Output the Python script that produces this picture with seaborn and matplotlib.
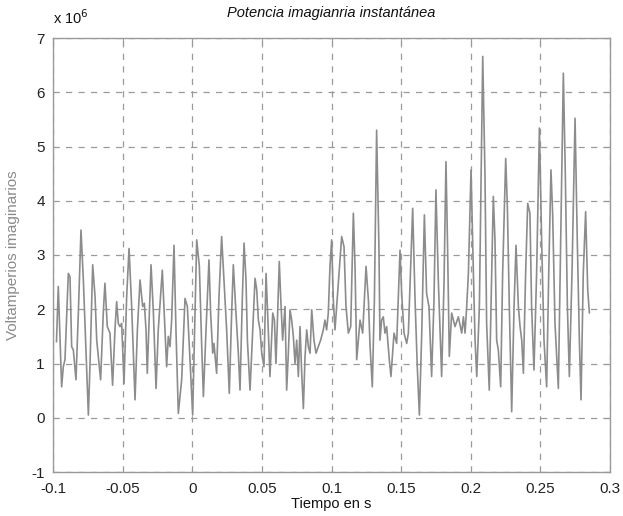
import numpy as np
import pandas as pd
import matplotlib
matplotlib.use("Agg")
import matplotlib.pyplot as plt
from matplotlib.ticker import FuncFormatter
import seaborn as sns

# Time (s) and instantaneous imaginary power (in units of 1e6 VAr)
t_s = [
    -0.0975, -0.0962, -0.0938, -0.0926, -0.0914, -0.0890, -0.0878, -0.0866, -0.0854, -0.0835,
    -0.0818, -0.0799, -0.0782, -0.0763, -0.0746, -0.0734, -0.0715, -0.0698, -0.0686, -0.0658,
    -0.0639, -0.0627, -0.0610, -0.0591, -0.0572, -0.0555, -0.0543, -0.0531, -0.0519, -0.0507,
    -0.0490, -0.0471, -0.0454, -0.0435, -0.0411, -0.0394, -0.0375, -0.0356, -0.0344, -0.0332,
    -0.0323, -0.0308, -0.0296, -0.0279, -0.0260, -0.0244, -0.0215, -0.0196, -0.0184, -0.0172,
    -0.0160, -0.0148, -0.0131, -0.0117, -0.0100, -0.0076, -0.0052, -0.0035, -0.0021, 0.0003,
    0.0032, 0.0051, 0.0068, 0.0080, 0.0099, 0.0120, 0.0132, 0.0147, 0.0156, 0.0175,
    0.0192, 0.0211, 0.0228, 0.0247, 0.0266, 0.0283, 0.0295, 0.0314, 0.0331, 0.0343,
    0.0360, 0.0372, 0.0386, 0.0396, 0.0415, 0.0431, 0.0451, 0.0463, 0.0475, 0.0487,
    0.0499, 0.0515, 0.0530, 0.0546, 0.0558, 0.0578, 0.0590, 0.0601, 0.0611, 0.0625,
    0.0635, 0.0649, 0.0666, 0.0678, 0.0690, 0.0702, 0.0714, 0.0726, 0.0738, 0.0750,
    0.0762, 0.0774, 0.0786, 0.0798, 0.0810, 0.0822, 0.0834, 0.0846, 0.0858, 0.0874,
    0.0889, 0.0905, 0.0922, 0.0941, 0.0953, 0.0965, 0.0977, 0.0989, 0.1001, 0.1013,
    0.1025, 0.1049, 0.1073, 0.1090, 0.1104, 0.1121, 0.1138, 0.1157, 0.1169, 0.1181,
    0.1205, 0.1224, 0.1248, 0.1265, 0.1277, 0.1293, 0.1308, 0.1324, 0.1341, 0.1348,
    0.1360, 0.1372, 0.1384, 0.1396, 0.1415, 0.1427, 0.1449, 0.1468, 0.1492, 0.1504,
    0.1521, 0.1540, 0.1552, 0.1583, 0.1600, 0.1616, 0.1631, 0.1648, 0.1667, 0.1683,
    0.1700, 0.1719, 0.1736, 0.1750, 0.1767, 0.1791, 0.1808, 0.1822, 0.1834, 0.1846,
    0.1863, 0.1887, 0.1911, 0.1935, 0.1947, 0.1959, 0.1971, 0.1983, 0.2002, 0.2019,
    0.2031, 0.2043, 0.2062, 0.2086, 0.2102, 0.2114, 0.2133, 0.2150, 0.2162, 0.2174,
    0.2186, 0.2198, 0.2215, 0.2229, 0.2251, 0.2263, 0.2277, 0.2294, 0.2311, 0.2325,
    0.2342, 0.2354, 0.2366, 0.2378, 0.2394, 0.2409, 0.2425, 0.2437, 0.2454, 0.2473,
    0.2493, 0.2509, 0.2526, 0.2545, 0.2560, 0.2576, 0.2588, 0.2605, 0.2629, 0.2646,
    0.2665, 0.2679, 0.2694, 0.2708, 0.2727, 0.2749, 0.2765, 0.2780, 0.2792, 0.2808,
    0.2825, 0.2840, 0.2852,
]
q_millions = [
    1.40, 2.42, 0.57, 0.94, 1.07, 2.66, 2.60, 1.31, 1.25, 0.70,
    1.93, 3.46, 2.54, 1.25, 0.05, 1.00, 2.82, 2.23, 1.43, 0.70,
    1.93, 2.48, 1.68, 1.56, 0.60, 1.62, 2.14, 1.74, 1.68, 1.74,
    0.63, 2.23, 3.12, 2.05, 0.33, 1.62, 2.54, 2.05, 2.11, 1.62,
    0.82, 1.93, 2.82, 1.93, 0.54, 1.62, 2.72, 1.62, 0.94, 1.50,
    1.31, 1.80, 3.18, 1.62, 0.08, 0.70, 2.20, 2.05, 1.31, 0.05,
    3.28, 2.79, 1.31, 0.39, 1.62, 2.91, 1.93, 1.19, 1.37, 0.82,
    2.23, 3.34, 2.54, 1.62, 0.45, 1.93, 2.82, 1.93, 1.19, 0.51,
    2.23, 3.22, 2.54, 1.43, 0.51, 1.43, 2.57, 2.36, 1.80, 1.62,
    1.19, 0.94, 2.66, 1.62, 0.76, 1.93, 1.80, 1.00, 1.74, 2.88,
    2.23, 1.43, 2.05, 0.51, 1.19, 1.99, 1.80, 1.50, 1.00, 1.43,
    0.76, 1.68, 0.82, 0.17, 1.13, 1.62, 1.31, 1.19, 1.99, 1.43,
    1.19, 1.31, 1.43, 1.62, 1.80, 1.62, 1.93, 2.79, 3.28, 2.17,
    1.62, 2.48, 3.34, 3.15, 2.05, 1.56, 1.68, 3.77, 2.79, 1.07,
    1.80, 1.56, 2.79, 2.17, 1.31, 0.57, 2.17, 5.30, 3.09, 1.43,
    1.80, 1.86, 1.56, 1.68, 1.07, 0.76, 1.56, 1.37, 3.09, 2.29,
    1.56, 1.37, 1.56, 3.86, 2.17, 0.94, 0.05, 1.56, 3.74, 2.29,
    2.05, 0.76, 2.17, 4.20, 2.54, 0.76, 2.48, 4.72, 3.09, 1.13,
    1.93, 1.68, 1.86, 1.56, 1.86, 1.56, 2.05, 2.66, 4.57, 2.66,
    1.43, 0.76, 2.05, 6.66, 4.51, 1.74, 0.51, 2.66, 4.08, 3.28,
    1.43, 1.25, 0.57, 2.66, 4.78, 3.89, 2.05, 0.11, 2.05, 3.18,
    2.05, 1.68, 1.43, 0.82, 2.66, 3.95, 3.77, 2.05, 0.88, 2.66,
    5.34, 3.28, 1.43, 0.57, 2.66, 4.57, 3.77, 1.74, 0.54, 3.28,
    6.35, 4.51, 2.05, 0.76, 2.66, 5.52, 3.28, 1.43, 0.33, 2.66,
    3.80, 2.36, 1.93,
]

x_ticks = [-0.1, -0.05, 0, 0.05, 0.1, 0.15, 0.2, 0.25, 0.3]
y_ticks_millions = [-1, 0, 1, 2, 3, 4, 5, 6, 7]

title = "Potencia imagianria instantánea"
x_label = "Tiempo en s"
y_label = "Voltamperios imaginarios"

df = pd.DataFrame({"t": t_s, "q": np.array(q_millions) * 1e6})

sns.set_style("white")
plt.rcParams["font.family"] = ["Liberation Sans", "DejaVu Sans"]

fig = plt.figure(figsize=(6.23, 5.16), dpi=100)
ax = fig.add_axes([53 / 623, 1 - 472 / 516, 557 / 623, 434 / 516])

sns.lineplot(data=df, x="t", y="q", ax=ax, color="#8c8c8c", linewidth=1.2,
             estimator=None, sort=False)

ax.set_xlim(-0.1, 0.3)
ax.set_ylim(-1e6, 7e6)
ax.set_xticks(x_ticks)
ax.set_yticks([v * 1e6 for v in y_ticks_millions])
ax.xaxis.set_major_formatter(FuncFormatter(lambda v, _: f"{v:g}"))
ax.yaxis.set_major_formatter(FuncFormatter(lambda v, _: f"{v / 1e6:g}"))

ax.grid(True, color="#9a9a9a", linestyle=(0, (5, 5)), linewidth=0.9)
for s in ax.spines.values():
    s.set_color("#9a9a9a")
    s.set_linewidth(1.0)
ax.tick_params(direction="in", length=5, color="#9a9a9a", labelsize=11,
               labelcolor="#222222", top=True, right=True)
ax.tick_params(axis="x", pad=7)
ax.tick_params(axis="y", pad=6)

ax.set_title(title, fontsize=10.5, fontstyle="italic", pad=15, color="#111111")
ax.set_xlabel(x_label, fontsize=10.5, color="#111111", labelpad=1)
ax.set_ylabel(y_label, fontsize=11, color="#8a8a8a", labelpad=8)
ax.text(0.0, 1.025, "x 10$^{6}$", transform=ax.transAxes, fontsize=10.5,
        ha="left", va="bottom", color="#111111")

fig.savefig("out.png", dpi=100)
